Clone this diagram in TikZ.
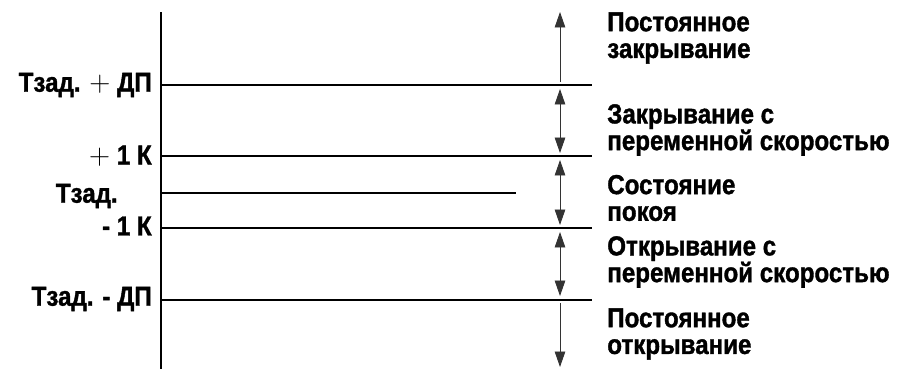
\documentclass[tikz,border=0pt]{standalone}
\usepackage{fontspec}
\setmainfont{Liberation Sans}[FakeStretch=0.88,BoldFeatures={FakeBold=1.3}]
\usetikzlibrary{arrows.meta,positioning}
\setlength{\lineskiplimit}{-20pt}

\begin{document}
\begin{tikzpicture}[x=0.025cm,y=-0.025cm,>={Triangle[length=11pt,width=7.5pt]},
  lvl/.style={line width=1.4pt},
  rng/.style={line width=0.6pt,black!80},
  lab/.style={font=\bfseries\fontsize{19.5}{19}\selectfont,anchor=east,inner sep=0pt},
  zone/.style={font=\bfseries\fontsize{19.5}{19}\selectfont,align=left,anchor=west,inner sep=0pt}]
\useasboundingbox (0,0) rectangle (907,369);
% axis
\coordinate (top) at (161,12);
\coordinate (bot) at (161,369);
\draw[lvl] (top) -- (bot);
% levels
\coordinate (up) at (161,85);   \coordinate (upe) at (592,85);
\coordinate (pk) at (161,156);  \coordinate (pke) at (592,156);
\coordinate (ts) at (161,193);  \coordinate (tse) at (516,193);
\coordinate (mk) at (161,228);  \coordinate (mke) at (592,228);
\coordinate (dn) at (161,300);  \coordinate (dne) at (592,300);
\draw[lvl] (up) -- (upe);
\draw[lvl] (pk) -- (pke);
\draw[lvl] (ts) -- (tse);
\draw[lvl] (mk) -- (mke);
\draw[lvl] (dn) -- (dne);
\node[lab] (tup) at (152,85) {Тзад. $+$ ДП};
\node[lab] (tpk) at (152,156) {$+$ 1 К};
\node[lab] (tts) at (118,196) {Тзад.};
\node[lab] (tmk) at (152,226) {- 1 К};
\node[lab] (tdn) at (152,299) {Тзад. - ДП};
% ranges
\coordinate (a0) at (560,12);  \coordinate (a1) at (560,82);
\coordinate (b0) at (560,89);  \coordinate (b1) at (560,153);
\coordinate (c0) at (560,160); \coordinate (c1) at (560,225);
\coordinate (d0) at (560,232); \coordinate (d1) at (560,296);
\coordinate (e0) at (560,303); \coordinate (e1) at (560,367);
\draw[rng,->] (a1) -- (a0);
\draw[rng,<->] (b0) -- (b1);
\draw[rng,<->] (c0) -- (c1);
\draw[rng,<->] (d0) -- (d1);
\draw[rng,->] (e0) -- (e1);
\node[zone] (za) at (607,38) {Постоянное\\закрывание};
\node[zone] (zb) at (607,130) {Закрывание с\\переменной скоростью};
\node[zone] (zc) at (607,198) {Состояние\\покоя};
\node[zone] (zd) at (607,262) {Открывание с\\переменной скоростью};
\node[zone] (ze) at (607,334) {Постоянное\\открывание};
\end{tikzpicture}
\end{document}
